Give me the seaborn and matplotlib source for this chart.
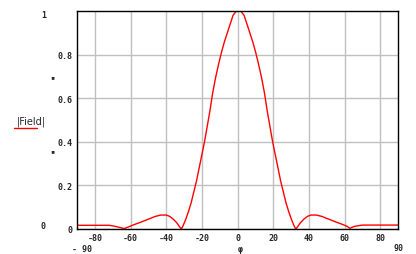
import matplotlib
matplotlib.use("Agg")
import matplotlib.pyplot as plt
import seaborn as sns
import pandas as pd

# angle (deg) and |Field| values
angles = [-90, -80, -72, -69, -66, -63.5, -61, -58, -54, -50, -46, -43, -40, -38,
          -36, -34, -32.5, -31.5, -30.5, -29, -27.5, -26, -24.5, -23, -21.5, -20,
          -18.5, -17, -15.5, -14, -12.4, -10.5, -9, -7.3, -4.5, -2.5, -0.6,
          0.6, 1.8, 3.7, 5.7, 8.5, 10.2, 11.7, 13.6, 15.2, 16.7, 18.2, 19.7, 21.2,
          22.7, 24.2, 25.7, 27.2, 28.7, 30.2, 31.7, 32.7, 33.7, 35.2, 37.2, 39.2,
          41.2, 44.2, 47.2, 51.2, 55.2, 59.2, 61.5, 63, 65.5, 70, 80, 90]
field = [0.017, 0.017, 0.017, 0.013, 0.007, 0.002, 0.01, 0.02, 0.032, 0.045, 0.058,
         0.064, 0.064, 0.058, 0.045, 0.028, 0.01, 0.0, 0.015, 0.045, 0.08, 0.12,
         0.17, 0.22, 0.28, 0.34, 0.40, 0.47, 0.54, 0.62, 0.69, 0.76, 0.81, 0.86,
         0.93, 0.98, 1.0,
         1.005, 1.0, 0.98, 0.93, 0.86, 0.81, 0.76, 0.69, 0.62, 0.54, 0.47, 0.40,
         0.34, 0.28, 0.22, 0.17, 0.12, 0.08, 0.045, 0.015, 0.0, 0.01, 0.028,
         0.045, 0.058, 0.064, 0.064, 0.058, 0.045, 0.032, 0.02, 0.012, 0.003,
         0.012, 0.018, 0.018, 0.018]

xticks = [-80, -60, -40, -20, 0, 20, 40, 60, 80]
xtick_labels = ["-80", "-60", "-40", "-20", "0", "20", "40", "60", "80"]
yticks = [0, 0.2, 0.4, 0.6, 0.8]
ytick_labels = ["0", "0.2", "0.4", "0.6", "0.8"]

df = pd.DataFrame({"angle": angles, "field": field})

sns.set_style("white")
plt.rcParams["font.family"] = ["DejaVu Sans Mono", "DejaVu Sans"]

fig = plt.figure(figsize=(4.16, 2.55), dpi=100)
ax = fig.add_axes([77 / 416, 1 - 230 / 255, (398 - 77) / 416, (230 - 12) / 255])

sns.lineplot(data=df, x="angle", y="field", ax=ax, color="#ff0000", linewidth=1.0)

ax.set_xlim(-90, 90)
ax.set_ylim(0, 1)
ax.set_xticks(xticks)
ax.set_xticklabels(xtick_labels, fontsize=6, fontweight="bold")
ax.set_yticks(yticks)
ax.set_yticklabels(ytick_labels, fontsize=6, fontweight="bold")
ax.tick_params(length=0, pad=3)
ax.grid(True, color="#c0c0c0", linewidth=1.0)
ax.set_axisbelow(True)
ax.set_xlabel("")
ax.set_ylabel("")
for s in ax.spines.values():
    s.set_color("black")
    s.set_linewidth(1.0)

# extra labels (min/max of axes, axis names)
fig.text(44 / 416, 1 - 16 / 255, "1", fontsize=6, fontweight="bold", ha="center", va="center")
fig.text(43 / 416, 1 - 227 / 255, "0", fontsize=6, fontweight="bold", ha="center", va="center")
fig.text(52 / 416, 1 - 77 / 255, "\u25aa", fontsize=5, ha="center", va="center")
fig.text(52 / 416, 1 - 151 / 255, "\u25aa", fontsize=5, ha="center", va="center")
fig.text(82 / 416, 1 - 250 / 255, "- 90", fontsize=6, fontweight="bold", ha="center", va="center")
fig.text(398 / 416, 1 - 249 / 255, "90", fontsize=6, fontweight="bold", ha="center", va="center")
fig.text(240 / 416, 1 - 250 / 255, "\u03c6", fontsize=6, fontweight="bold", ha="center", va="center")
fig.text(31 / 416, 1 - 122 / 255, "|Field|", fontsize=7, ha="center", va="center",
         family=["DejaVu Sans"])
fig.add_artist(plt.Line2D([14 / 416, 37 / 416], [1 - 129 / 255, 1 - 129 / 255],
                          color="#ff0000", linewidth=1.0, transform=fig.transFigure))

fig.savefig("out.png", dpi=100)
